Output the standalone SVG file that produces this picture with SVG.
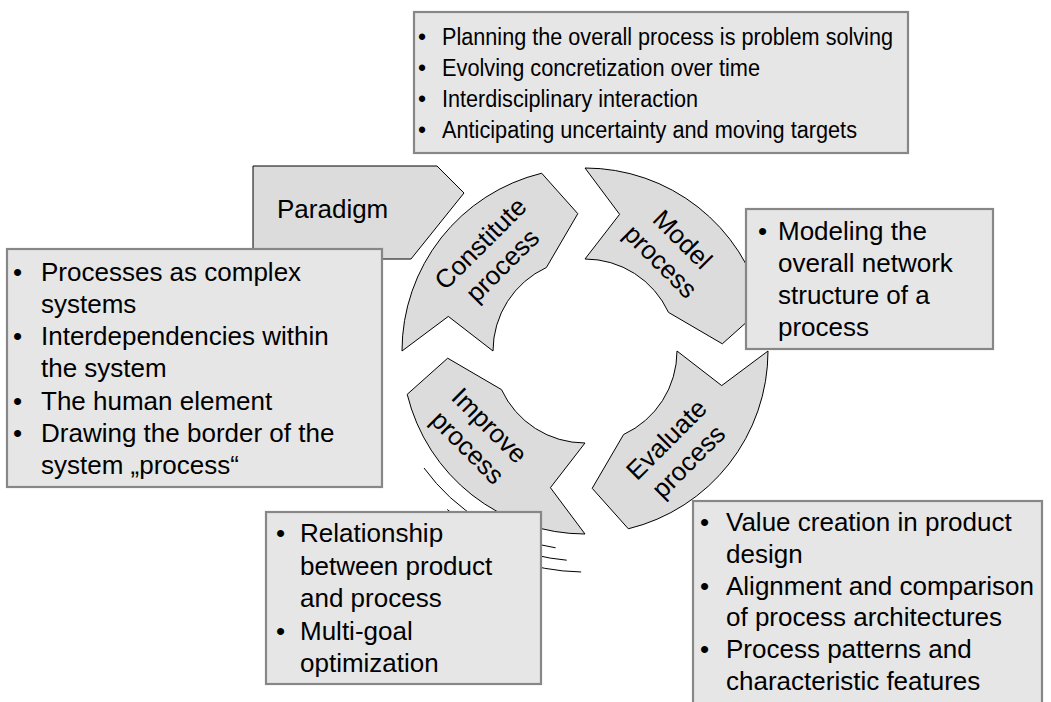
<svg xmlns="http://www.w3.org/2000/svg" width="1051" height="702" viewBox="0 0 1051 702">
<style>
  .arrow{fill:#dcdcdc;stroke:#000;stroke-width:1}
  .box{fill:#e6e6e6;stroke:#878787;stroke-width:2.2}
  .penta{fill:#dcdcdc;stroke:#000;stroke-width:1}
  text{font-family:"Liberation Sans",Arial,sans-serif;fill:#000}
  .t{font-size:26px}
  .ts{font-size:23px}
  .lbl{font-size:26px;text-anchor:middle}
  .motion{fill:none;stroke:#000;stroke-width:1}
</style>
<rect width="1051" height="702" fill="#fff"/>

<g id="paradigm">
  <polygon class="penta" points="253,166 437,166 464,193 411,259 253,259"/>
  <text class="t" x="277" y="218">Paradigm</text>
</g>

<g id="box-left">
  <rect class="box" x="7" y="249" width="375" height="238"/>
  <text class="t" x="13" y="281">•</text>
  <text class="t" x="41" y="281">Processes as complex</text>
  <text class="t" x="41" y="313">systems</text>
  <text class="t" x="13" y="345">•</text>
  <text class="t" x="41" y="345">Interdependencies within</text>
  <text class="t" x="41" y="377">the system</text>
  <text class="t" x="13" y="410">•</text>
  <text class="t" x="41" y="410">The human element</text>
  <text class="t" x="13" y="442">•</text>
  <text class="t" x="41" y="442">Drawing the border of the</text>
  <text class="t" x="41" y="474">system „process“</text>
</g>

<g id="arrow-constitute">
  <path class="arrow" d="M402,351 A183,183 0 0 1 541.66,173.21 L577.8,213.69 L546.41,267.48 A92,92 0 0 0 493,351 L448.31,316.41 Z"/>
  <g transform="translate(491,254) rotate(-45)">
    <text class="lbl" x="0" y="-6">Constitute</text>
    <text class="lbl" x="0" y="25">process</text>
  </g>
</g>

<g id="arrow-model">
  <path class="arrow" d="M585,168 A183,183 0 0 1 762.79,307.66 L722.31,343.8 L668.52,312.41 A92,92 0 0 0 585,259 L619.59,214.31 Z"/>
  <g transform="translate(672,250) rotate(45)">
    <text class="lbl" x="0" y="-6">Model</text>
    <text class="lbl" x="0" y="25">process</text>
  </g>
</g>

<g id="arrow-evaluate">
  <path class="arrow" d="M768,351 A183,183 0 0 1 628.34,528.79 L592.2,488.31 L623.59,434.52 A92,92 0 0 0 677,351 L721.69,385.59 Z"/>
  <g transform="translate(677,450) rotate(-45)">
    <text class="lbl" x="0" y="-6">Evaluate</text>
    <text class="lbl" x="0" y="25">process</text>
  </g>
</g>

<g id="arrow-improve">
  <path class="arrow" d="M585,534 A183,183 0 0 1 407.21,394.34 L447.69,358.2 L501.48,389.59 A92,92 0 0 0 585,443 L550.41,487.69 Z"/>
  <g transform="translate(479,436) rotate(45)">
    <text class="lbl" x="0" y="-6">Improve</text>
    <text class="lbl" x="0" y="25">process</text>
  </g>
</g>

<g id="connectors">
  <path class="motion" d="M424,468 A199,199 0 0 0 555.6,547.8"/>
  <path class="motion" d="M447.23,509.49 A210,210 0 0 0 566.7,560.2"/>
  <path class="motion" d="M509.41,558.67 A221,221 0 0 0 581.14,571.97"/>
</g>

<g id="box-model">
  <rect class="box" x="746" y="209" width="247" height="140"/>
  <text class="t" x="758" y="240">•</text>
  <text class="t" x="778" y="240">Modeling the</text>
  <text class="t" x="778" y="272">overall network</text>
  <text class="t" x="778" y="304">structure of a</text>
  <text class="t" x="778" y="336">process</text>
</g>

<g id="box-improve">
  <rect class="box" x="266" y="512" width="275" height="172"/>
  <text class="t" x="276" y="542">•</text>
  <text class="t" x="300" y="542">Relationship</text>
  <text class="t" x="300" y="575">between product</text>
  <text class="t" x="300" y="607">and process</text>
  <text class="t" x="276" y="640">•</text>
  <text class="t" x="300" y="640">Multi-goal</text>
  <text class="t" x="300" y="672">optimization</text>
</g>

<g id="box-evaluate">
  <rect class="box" x="693" y="501" width="349" height="220"/>
  <text class="t" x="700" y="531">•</text>
  <text class="t" x="726" y="531">Value creation in product</text>
  <text class="t" x="726" y="563">design</text>
  <text class="t" x="700" y="595">•</text>
  <text class="t" x="726" y="595">Alignment and comparison</text>
  <text class="t" x="726" y="626">of process architectures</text>
  <text class="t" x="700" y="658">•</text>
  <text class="t" x="726" y="658">Process patterns and</text>
  <text class="t" x="726" y="690">characteristic features</text>
</g>

<g id="box-top">
  <rect class="box" x="414" y="12" width="494" height="141"/>
  <text class="ts" x="418" y="45">•</text>
  <text class="ts" x="442" y="45" textLength="451" lengthAdjust="spacingAndGlyphs">Planning the overall process is problem solving</text>
  <text class="ts" x="418" y="76">•</text>
  <text class="ts" x="442" y="76" textLength="318" lengthAdjust="spacingAndGlyphs">Evolving concretization over time</text>
  <text class="ts" x="418" y="107">•</text>
  <text class="ts" x="442" y="107" textLength="256" lengthAdjust="spacingAndGlyphs">Interdisciplinary interaction</text>
  <text class="ts" x="418" y="138">•</text>
  <text class="ts" x="442" y="138" textLength="415" lengthAdjust="spacingAndGlyphs">Anticipating uncertainty and moving targets</text>
</g>
</svg>
